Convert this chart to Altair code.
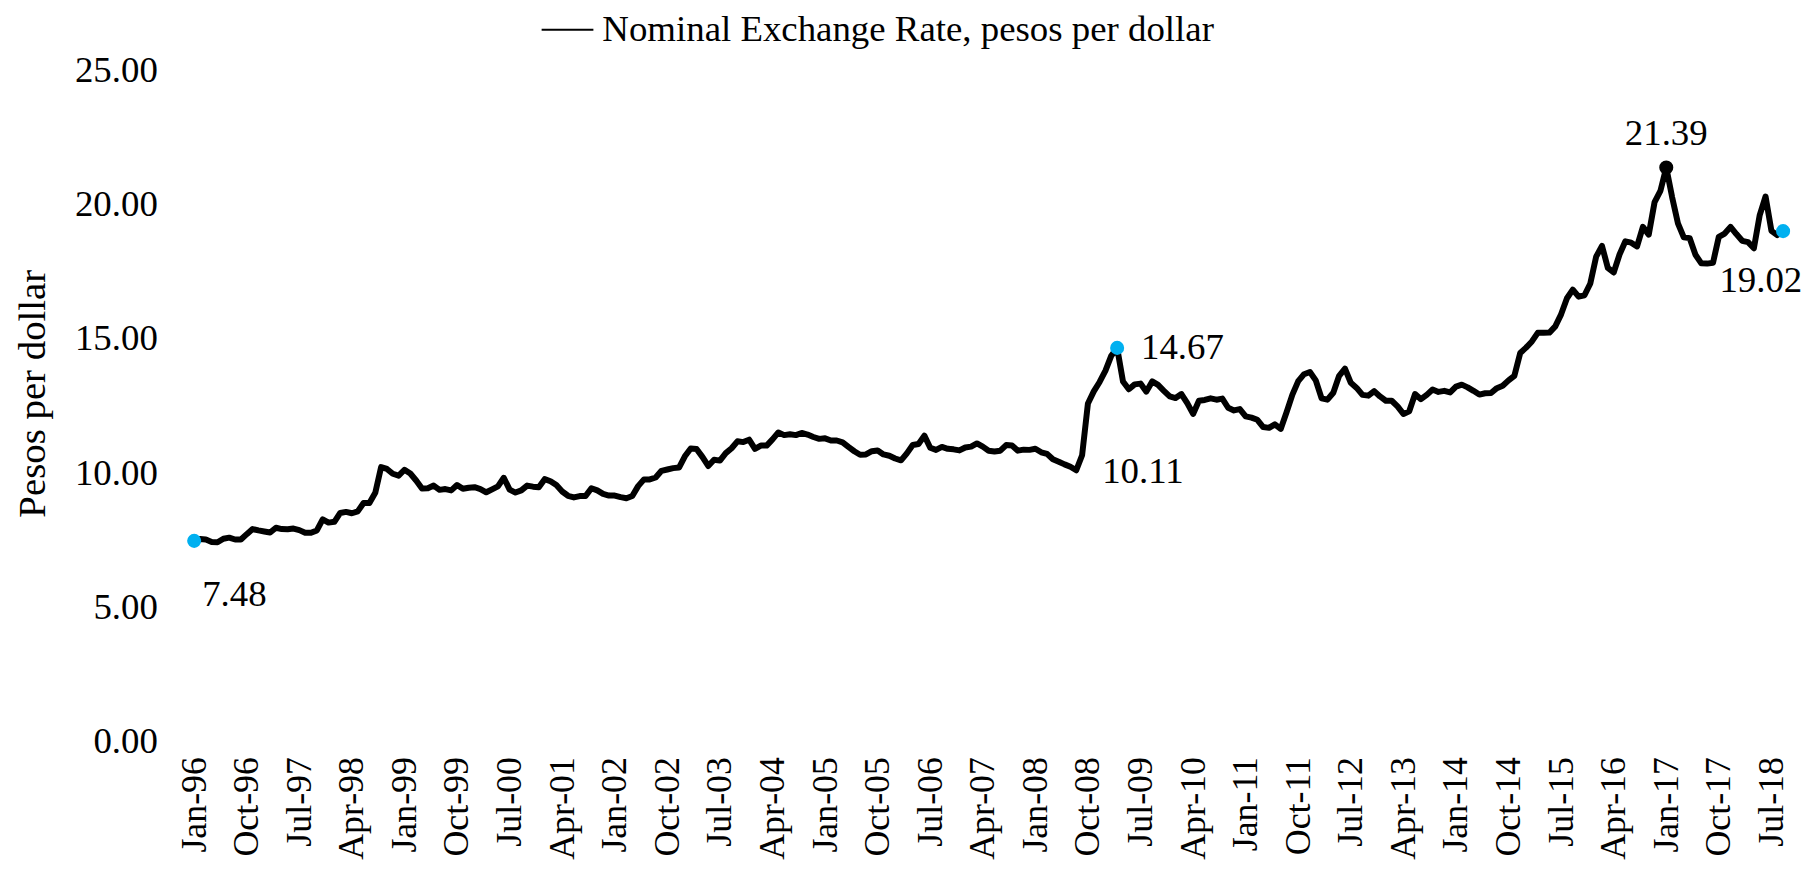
import altair as alt
import pandas as pd

MONTHS = ["Jan", "Feb", "Mar", "Apr", "May", "Jun", "Jul", "Aug", "Sep", "Oct", "Nov", "Dec"]
YEARS = list(range(1996, 2019))

v1996 = [7.48, 7.55, 7.53, 7.44, 7.43, 7.56, 7.60, 7.53, 7.53, 7.73, 7.92, 7.87]
v1997 = [7.83, 7.79, 7.97, 7.92, 7.91, 7.94, 7.88, 7.78, 7.78, 7.87, 8.28, 8.16]
v1998 = [8.19, 8.52, 8.56, 8.51, 8.58, 8.89, 8.89, 9.27, 10.23, 10.16, 9.98, 9.91]
v1999 = [10.13, 9.99, 9.73, 9.43, 9.44, 9.54, 9.38, 9.41, 9.36, 9.56, 9.42, 9.46]
v2000 = [9.48, 9.41, 9.29, 9.40, 9.51, 9.83, 9.39, 9.28, 9.36, 9.54, 9.50, 9.48]
v2001 = [9.78, 9.70, 9.56, 9.32, 9.16, 9.10, 9.15, 9.15, 9.44, 9.36, 9.23, 9.17]
v2002 = [9.17, 9.11, 9.07, 9.15, 9.52, 9.77, 9.77, 9.84, 10.09, 10.14, 10.19, 10.21]
v2003 = [10.63, 10.92, 10.90, 10.61, 10.27, 10.50, 10.47, 10.75, 10.93, 11.19, 11.16, 11.25]
v2004 = [10.91, 11.03, 11.03, 11.26, 11.52, 11.42, 11.45, 11.42, 11.50, 11.44, 11.35, 11.28]
v2005 = [11.30, 11.22, 11.22, 11.15, 10.98, 10.82, 10.69, 10.70, 10.82, 10.85, 10.70, 10.65]
v2006 = [10.55, 10.48, 10.74, 11.05, 11.09, 11.40, 10.95, 10.87, 10.98, 10.91, 10.89, 10.85]
v2007 = [10.96, 10.99, 11.11, 10.99, 10.84, 10.81, 10.84, 11.05, 11.03, 10.84, 10.88, 10.87]
v2008 = [10.91, 10.78, 10.72, 10.52, 10.43, 10.33, 10.24, 10.11, 10.67, 12.60, 13.05, 13.40]
v2009 = [13.82, 14.38, 14.67, 13.42, 13.13, 13.31, 13.34, 13.04, 13.42, 13.29, 13.07, 12.86]
v2010 = [12.80, 12.95, 12.61, 12.21, 12.70, 12.73, 12.79, 12.74, 12.78, 12.44, 12.34, 12.39]
v2011 = [12.12, 12.07, 11.99, 11.72, 11.69, 11.82, 11.65, 12.27, 12.93, 13.43, 13.69, 13.77]
v2012 = [13.46, 12.79, 12.74, 13.00, 13.63, 13.90, 13.37, 13.18, 12.92, 12.89, 13.06, 12.86]
v2013 = [12.70, 12.70, 12.49, 12.21, 12.31, 12.95, 12.76, 12.92, 13.12, 13.03, 13.07, 13.01]
v2014 = [13.23, 13.30, 13.20, 13.07, 12.93, 12.98, 12.99, 13.17, 13.26, 13.46, 13.63, 14.48]
v2015 = [14.68, 14.91, 15.23, 15.23, 15.24, 15.47, 15.92, 16.52, 16.84, 16.58, 16.63, 17.07]
v2016 = [18.07, 18.47, 17.65, 17.48, 18.15, 18.64, 18.59, 18.45, 19.18, 18.89, 20.10, 20.52]
v2017 = [21.39, 20.29, 19.31, 18.79, 18.76, 18.14, 17.82, 17.81, 17.84, 18.81, 18.93, 19.18]
v2018 = [18.91, 18.66, 18.61, 18.38, 19.62, 20.31, 19.03, 18.87, 19.02]

values = (v1996 + v1997 + v1998 + v1999 + v2000 + v2001 + v2002 + v2003 + v2004 + v2005
          + v2006 + v2007 + v2008 + v2009 + v2010 + v2011 + v2012 + v2013 + v2014
          + v2015 + v2016 + v2017 + v2018)
labels = [f"{m}-{str(y)[2:]}" for y in YEARS for m in MONTHS][:len(values)]
tick_labels = labels[::9]

SERIES = "Nominal Exchange Rate, pesos per dollar"
blue_months = ["Jan-96", "Mar-09", "Sep-18"]
black_months = ["Jan-17"]

df = pd.DataFrame({"month": labels, "rate": values, "series": SERIES})

FONT = "Liberation Serif"

x_enc = alt.X(
    "month:N",
    sort=None,
    scale=alt.Scale(type="point", padding=0, domain=labels),
    axis=alt.Axis(
        values=tick_labels, labelAngle=270, labelFontSize=36, labelFont=FONT,
        labelColor="black", labelPadding=15, domain=False, ticks=False, tickSize=0,
        grid=False, title=None, labelOverlap=False,
    ),
)
y_enc = alt.Y(
    "rate:Q",
    scale=alt.Scale(domain=[0, 25], nice=False, zero=True),
    axis=alt.Axis(
        values=[0, 5, 10, 15, 20, 25], format=".2f", labelFontSize=37, labelFont=FONT,
        labelColor="black", labelPadding=37, domain=False, ticks=False, tickSize=0,
        grid=False, title="Pesos per dollar", titleFont=FONT, titleFontSize=39,
        titleFontWeight="normal", titleColor="black", titleAngle=270,
        titleX=-162, titleY=324, titleAlign="center", titleBaseline="middle",
    ),
)

base = alt.Chart(df)

line = base.mark_line(strokeWidth=6, strokeJoin="round", strokeCap="round").encode(
    x=x_enc,
    y=y_enc,
    color=alt.Color(
        "series:N",
        scale=alt.Scale(range=["black"]),
        legend=alt.Legend(
            orient="none", legendX=348, legendY=-68, title=None, padding=0,
            symbolType="stroke", symbolSize=2704, symbolStrokeWidth=2,
            labelFont=FONT, labelFontSize=37, labelColor="black", labelOffset=8,
            labelLimit=0,
        ),
    ),
)

blue_pts = base.transform_filter(
    alt.FieldOneOfPredicate(field="month", oneOf=blue_months)
).mark_point(filled=True, size=200, color="#00B0F0", opacity=1).encode(x=x_enc, y=y_enc)

black_pts = base.transform_filter(
    alt.FieldOneOfPredicate(field="month", oneOf=black_months)
).mark_point(filled=True, size=200, color="black", opacity=1).encode(x=x_enc, y=y_enc)


def annot(month, align, dx, dy):
    return base.transform_filter(alt.datum.month == month).mark_text(
        align=align, baseline="middle", dx=dx, dy=dy, font=FONT, fontSize=37, color="black"
    ).encode(x=x_enc, y=y_enc, text=alt.Text("rate:Q", format=".2f"))


texts = [
    annot("Jan-96", "left", 8, 54),
    annot("Aug-08", "left", 26, 2),
    annot("Mar-09", "left", 24, 0),
    annot("Jan-17", "center", 0, -34),
    annot("Sep-18", "left", -64, 50),
]

chart = alt.layer(line, blue_pts, black_pts, *texts).properties(
    width=1596,
    height=674,
    autosize=alt.AutoSizeParams(type="none"),
    padding={"left": 187, "top": 61, "right": 21, "bottom": 120},
    background="white",
).configure_view(stroke=None)

chart.save("out.html", embed_options={"renderer": "svg", "actions": False})
